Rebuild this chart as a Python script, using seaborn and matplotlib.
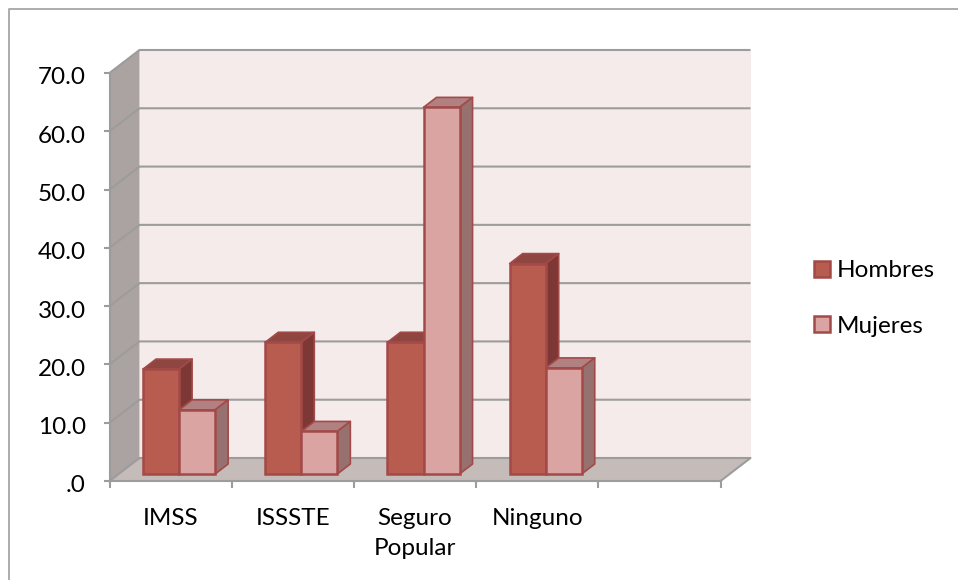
import numpy as np
import pandas as pd
import matplotlib.pyplot as plt
from matplotlib.lines import Line2D
from matplotlib.patches import Polygon
from matplotlib.transforms import Affine2D
import seaborn as sns

# Values
categories = ["IMSS", "ISSSTE", "Seguro\nPopular", "Ninguno", " "]
hombres = [18.0, 22.6, 22.6, 36.1, np.nan]
mujeres = [11.0, 7.3, 62.9, 18.2, np.nan]
y_ticks = [0, 10, 20, 30, 40, 50, 60, 70]
y_labels = [".0", "10.0", "20.0", "30.0", "40.0", "50.0", "60.0", "70.0"]

sns.set_theme(style="white")
plt.rcParams['font.family'] = ['Lato', 'DejaVu Sans']

FIG_W, FIG_H = 958, 580
fig = plt.figure(figsize=(FIG_W / 100, FIG_H / 100), dpi=100)

# front plane of the fake 3D box, in pixels
left, right, top, bottom = 109.5, 720.5, 73, 481
ax = fig.add_axes([left / FIG_W, 1 - bottom / FIG_H, (right - left) / FIG_W, (bottom - top) / FIG_H])

df = pd.DataFrame({"cat": categories, "Hombres": hombres, "Mujeres": mujeres})
df = df.melt(id_vars="cat", var_name="sexo", value_name="valor")

colors = {"Hombres": "#b95c50", "Mujeres": "#d9a4a2"}
edge = "#a34a48"
sns.barplot(data=df, x="cat", y="valor", hue="sexo", order=categories, palette=colors,
            width=0.59, gap=0, edgecolor=edge, linewidth=1.8, saturation=1, errorbar=None, ax=ax)

ax.set_xlim(-0.5, 4.5)
ax.set_ylim(0, 70)
ax.set_xlabel("")
ax.set_ylabel("")
ax.patch.set_visible(False)

# pixels to data units
px_x = 5 / (right - left)
px_y = 70 / (bottom - top)
box_dx, box_dy = 30 * px_x, 23 * px_y    # depth of the whole box
bar_dx, bar_dy = 13 * px_x, 10 * px_y    # depth of a bar
shift_x, shift_y = 8.5 * px_x, 7 * px_y  # bars stand in the middle of the floor

x0, x1 = -0.5, 4.5
grey = "#9c9c9c"

# walls and floor
ax.add_patch(Polygon([(x0 + box_dx, box_dy), (x1 + box_dx, box_dy), (x1 + box_dx, 70 + box_dy), (x0 + box_dx, 70 + box_dy)],
                     fc="#f6ebeb", ec="none", clip_on=False, zorder=0.1))
ax.add_patch(Polygon([(x0, 0), (x0 + box_dx, box_dy), (x0 + box_dx, 70 + box_dy), (x0, 70)],
                     fc="#aba3a1", ec="none", clip_on=False, zorder=0.2))
ax.add_patch(Polygon([(x0, 0), (x1, 0), (x1 + box_dx, box_dy), (x0 + box_dx, box_dy)],
                     fc="#c5bcba", ec="none", clip_on=False, zorder=0.2))

# gridlines go along the side wall and then across the back wall
for v in y_ticks:
    ax.plot([x0, x0 + box_dx, x1 + box_dx], [v, v + box_dy, v + box_dy], color=grey, lw=1.5,
            clip_on=False, zorder=0.3, solid_capstyle="butt")
ax.plot([x1, x1 + box_dx], [0, box_dy], color=grey, lw=1.5, clip_on=False, zorder=0.3)

# bars: move the fronts and add top and side faces
face_cols = {colors["Hombres"]: ("#8f4540", "#7d3735"), colors["Mujeres"]: ("#b08180", "#977070")}
bars = [p for p in ax.patches if isinstance(p, plt.Rectangle) and p.get_height() > 0]
bars = sorted(bars, key=lambda p: p.get_x())
for i, bar in enumerate(bars):
    key = "Hombres" if i % 2 == 0 else "Mujeres"
    top_col, side_col = face_cols[colors[key]]
    bx = bar.get_x() + shift_x
    bw = bar.get_width()
    bh = bar.get_height()
    bar.set_x(bx)
    bar.set_y(shift_y)
    bar.set_height(bh)
    by = shift_y + bh
    ax.add_patch(Polygon([(bx, by), (bx + bw, by), (bx + bw + bar_dx, by + bar_dy), (bx + bar_dx, by + bar_dy)],
                         fc=top_col, ec=edge, lw=1.2, clip_on=False, zorder=2 + i, joinstyle="round"))
    ax.add_patch(Polygon([(bx + bw, shift_y), (bx + bw + bar_dx, shift_y + bar_dy), (bx + bw + bar_dx, by + bar_dy), (bx + bw, by)],
                         fc=side_col, ec=edge, lw=1.2, clip_on=False, zorder=2 + i, joinstyle="round"))
    bar.set_zorder(2.5 + i)

# axes
sns.despine(ax=ax, top=True, right=True)
for name in ["left", "bottom"]:
    ax.spines[name].set_color(grey)
    ax.spines[name].set_linewidth(1.5)
    ax.spines[name].set_zorder(0.4)

ax.set_yticks(y_ticks)
ax.set_yticklabels(y_labels)
ax.set_xticks(range(len(categories)))
ax.set_xticklabels(categories, linespacing=1.5)
ax.set_xticks(np.arange(-0.5, 5), minor=True)
ax.tick_params(axis="y", length=4.5, width=1.5, color=grey, left=True, pad=12.5, labelsize=17.5, labelcolor="black")
ax.tick_params(axis="x", which="major", length=0, bottom=False, pad=19.5, labelsize=17.5, labelcolor="black")
ax.tick_params(axis="x", which="minor", length=5, width=1.5, color=grey, bottom=True)

# y labels sit a little under their ticks
for lab in ax.get_yticklabels():
    lab.set_transform(lab.get_transform() + Affine2D().translate(0, -3))

# legend out on the right
handles, labels = ax.get_legend_handles_labels()
ax.get_legend().remove()
fig.legend(handles, labels, loc="center left", bbox_to_anchor=(792 / FIG_W, 1 - 298.5 / FIG_H), frameon=False,
           fontsize=17.5, handlelength=0.66, handleheight=0.66, handletextpad=0.3, labelspacing=1.42, labelcolor="black")

# chart frame, right and bottom run off the picture
fig.add_artist(Line2D([9 / FIG_W, 9 / FIG_W, 1], [0, 1 - 9 / FIG_H, 1 - 9 / FIG_H], color="#a6a6a6", lw=1.3))

fig.savefig("out.png", dpi=100, facecolor="white")
